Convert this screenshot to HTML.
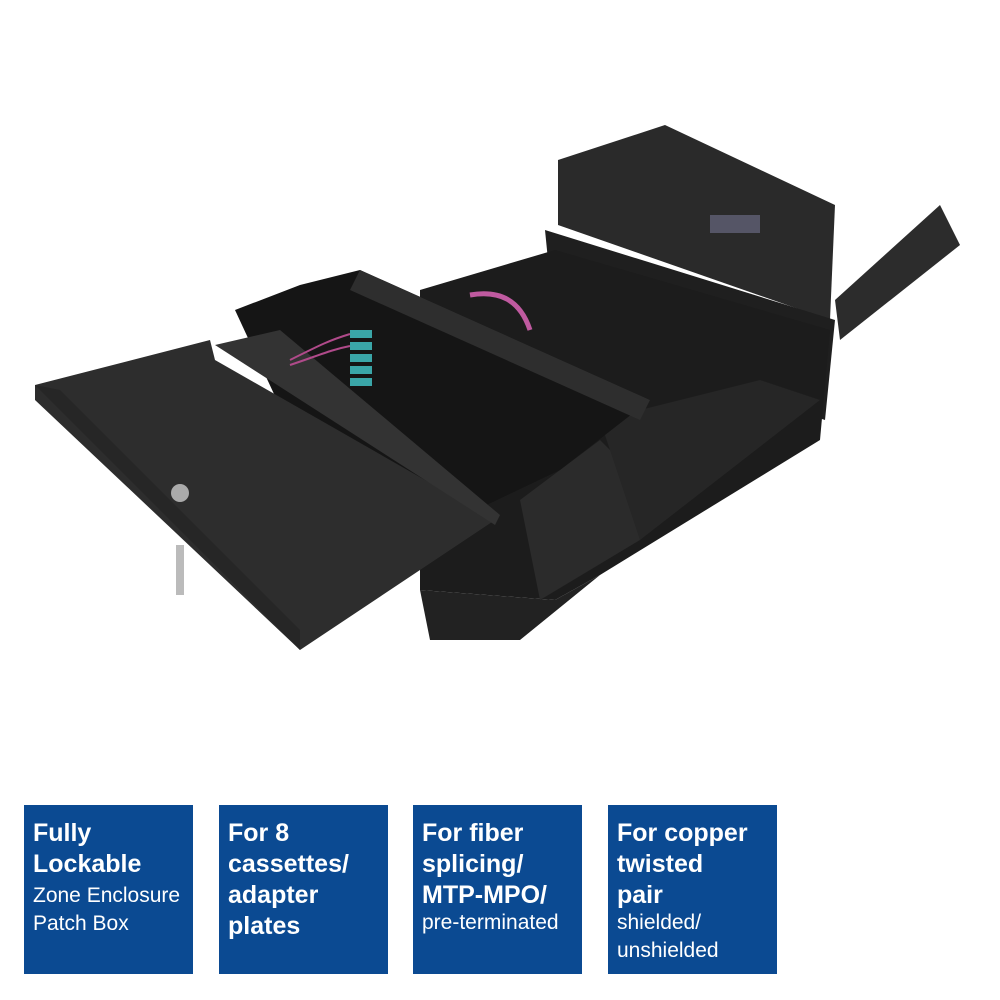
<!DOCTYPE html>
<html><head><meta charset="utf-8"><style>
body{margin:0;width:1000px;height:1000px;background:#fff;position:relative;overflow:hidden;font-family:"Liberation Sans",sans-serif}
.b{position:absolute;top:805px;width:169px;height:169px;background:#0b4a92;color:#fff;box-sizing:border-box;padding:13px 0 0 9px}
.h{font-weight:bold;font-size:25px;line-height:31px}
.r{font-size:21px;line-height:28px;margin-top:2px}
svg{position:absolute;left:0;top:0}
</style></head><body>
<svg width="1000" height="790" viewBox="0 0 1000 790">
<polygon points="558,160 665,125 835,205 830,320 558,225" fill="#2a2a2a"/>
<polygon points="835,300 940,205 960,245 840,340" fill="#2c2c2c"/>
<polygon points="545,230 835,320 825,420 555,330" fill="#1f1f1f"/>
<polygon points="420,290 555,250 830,330 820,440 600,575 555,600 420,590" fill="#1c1c1c"/>
<polygon points="420,590 430,640 520,640 600,575 555,600" fill="#222"/>
<polygon points="520,500 600,440 630,470 640,540 540,600" fill="#2b2b2b"/>
<polygon points="600,420 760,380 820,400 640,540" fill="#262626"/>
<polygon points="235,310 300,285 360,270 650,400 560,470 455,520 300,450" fill="#151515"/>
<polygon points="360,270 650,400 640,420 350,290" fill="#2e2e2e"/>
<polygon points="35,385 210,340 215,360 495,520 300,650 35,400" fill="#2d2d2d"/>
<polygon points="35,385 60,390 300,630 300,650" fill="#262626"/>
<polygon points="215,345 280,330 500,515 495,525" fill="#333"/>
<g fill="#3aa6a8"><rect x="350" y="330" width="22" height="8"/><rect x="350" y="342" width="22" height="8"/><rect x="350" y="354" width="22" height="8"/><rect x="350" y="366" width="22" height="8"/><rect x="350" y="378" width="22" height="8"/></g>
<path d="M290,360 C320,345 330,340 350,334 M290,365 C320,355 330,350 350,346" stroke="#b04a8a" stroke-width="2" fill="none"/>
<path d="M470,295 C500,290 520,300 530,330" stroke="#c05aa0" stroke-width="5" fill="none"/>
<circle cx="180" cy="493" r="9" fill="#aaa"/>
<rect x="176" y="545" width="8" height="50" fill="#bbb"/>
<rect x="710" y="215" width="50" height="18" fill="#556"/>
</svg>
<div class="b" style="left:24px"><div class="h">Fully<br>Lockable</div><div class="r">Zone Enclosure<br>Patch Box</div></div>
<div class="b" style="left:219px"><div class="h">For 8<br>cassettes/<br>adapter<br>plates</div></div>
<div class="b" style="left:413px"><div class="h">For fiber<br>splicing/<br>MTP-MPO/</div><div class="r" style="margin-top:-2px">pre-terminated</div></div>
<div class="b" style="left:608px"><div class="h">For copper<br>twisted<br>pair</div><div class="r" style="margin-top:-2px">shielded/<br>unshielded</div></div>
</body></html>
